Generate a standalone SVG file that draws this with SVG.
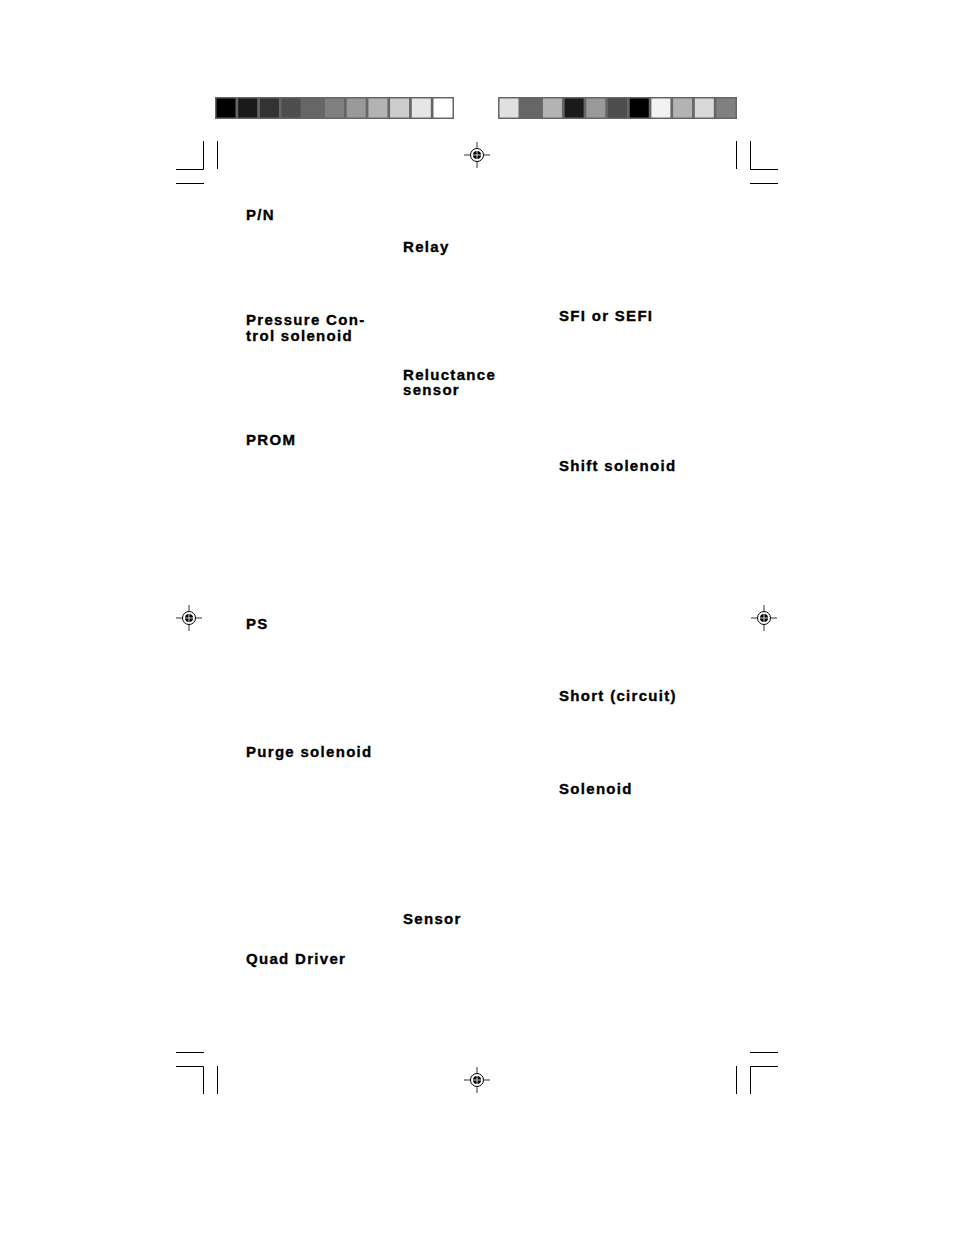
<svg xmlns="http://www.w3.org/2000/svg" width="954" height="1235" viewBox="0 0 954 1235">
<defs>
<style>
.t{font-family:"Liberation Sans",Arial,sans-serif;font-weight:bold;font-size:15px;fill:#000;stroke:#000;stroke-width:0.35;letter-spacing:1.3px}
.c{stroke:#000;stroke-width:1;fill:none}
</style>
<g id="reg">
<line x1="-13" y1="0" x2="13" y2="0" stroke="#000" stroke-width="0.8"/>
<line x1="0" y1="-13" x2="0" y2="13" stroke="#000" stroke-width="0.8"/>
<circle r="6.5" fill="#fff" stroke="#000" stroke-width="1"/>
<circle r="4" fill="#000"/>
<line x1="-4" y1="0" x2="4" y2="0" stroke="#fff" stroke-width="0.8"/>
<line x1="0" y1="-4" x2="0" y2="4" stroke="#fff" stroke-width="0.8"/>
</g>
</defs>
<rect width="954" height="1235" fill="#fff"/>
<g id="bar-left">
<rect x="215" y="97" width="239" height="22" fill="#666"/>
<rect x="216.5" y="98.5" width="19" height="19" fill="#000"/>
<rect x="238.2" y="98.5" width="19" height="19" fill="#1a1a1a"/>
<rect x="259.9" y="98.5" width="19" height="19" fill="#333"/>
<rect x="281.6" y="98.5" width="19" height="19" fill="#4d4d4d"/>
<rect x="303.3" y="98.5" width="19" height="19" fill="#666"/>
<rect x="325" y="98.5" width="19" height="19" fill="#808080"/>
<rect x="346.7" y="98.5" width="19" height="19" fill="#999"/>
<rect x="368.4" y="98.5" width="19" height="19" fill="#b3b3b3"/>
<rect x="390.1" y="98.5" width="19" height="19" fill="#ccc"/>
<rect x="411.8" y="98.5" width="19" height="19" fill="#e6e6e6"/>
<rect x="433.5" y="98.5" width="19" height="19" fill="#fff"/>
</g>
<g id="bar-right">
<rect x="498" y="97" width="239" height="22" fill="#666"/>
<rect x="499.5" y="98.5" width="19" height="19" fill="#e0e0e0"/>
<rect x="521.2" y="98.5" width="19" height="19" fill="#666"/>
<rect x="542.9" y="98.5" width="19" height="19" fill="#b3b3b3"/>
<rect x="564.6" y="98.5" width="19" height="19" fill="#1a1a1a"/>
<rect x="586.3" y="98.5" width="19" height="19" fill="#999"/>
<rect x="608" y="98.5" width="19" height="19" fill="#4d4d4d"/>
<rect x="629.7" y="98.5" width="19" height="19" fill="#000"/>
<rect x="651.4" y="98.5" width="19" height="19" fill="#f2f2f2"/>
<rect x="673.1" y="98.5" width="19" height="19" fill="#b3b3b3"/>
<rect x="694.8" y="98.5" width="19" height="19" fill="#d9d9d9"/>
<rect x="716.5" y="98.5" width="19" height="19" fill="#808080"/>
</g>
<g id="crop-marks" class="c">
<path d="M203.5 141V169.5H176M217.5 141V169M176 183.5H204"/>
<path d="M736.5 141V169M750.5 141V169.5H778M750 183.5H778"/>
<path d="M176 1052.5H204M176 1066.5H203.5V1094M217.5 1066V1094"/>
<path d="M750 1052.5H778M778 1066.5H750.5V1094M736.5 1066V1094"/>
</g>
<use href="#reg" x="477" y="155"/>
<use href="#reg" x="189" y="618"/>
<use href="#reg" x="764" y="618"/>
<use href="#reg" x="477" y="1080"/>
<g id="labels">
<text class="t" x="246" y="220">P/N</text>
<text class="t" x="246" y="325">Pressure Con-</text>
<text class="t" x="246" y="341">trol solenoid</text>
<text class="t" x="246" y="445">PROM</text>
<text class="t" x="246" y="629">PS</text>
<text class="t" x="246" y="757">Purge solenoid</text>
<text class="t" x="246" y="964">Quad Driver</text>
<text class="t" x="403" y="252">Relay</text>
<text class="t" x="403" y="380">Reluctance</text>
<text class="t" x="403" y="395">sensor</text>
<text class="t" x="403" y="924">Sensor</text>
<text class="t" x="559" y="321">SFI or SEFI</text>
<text class="t" x="559" y="471">Shift solenoid</text>
<text class="t" x="559" y="701">Short (circuit)</text>
<text class="t" x="559" y="794">Solenoid</text>
</g>
</svg>
